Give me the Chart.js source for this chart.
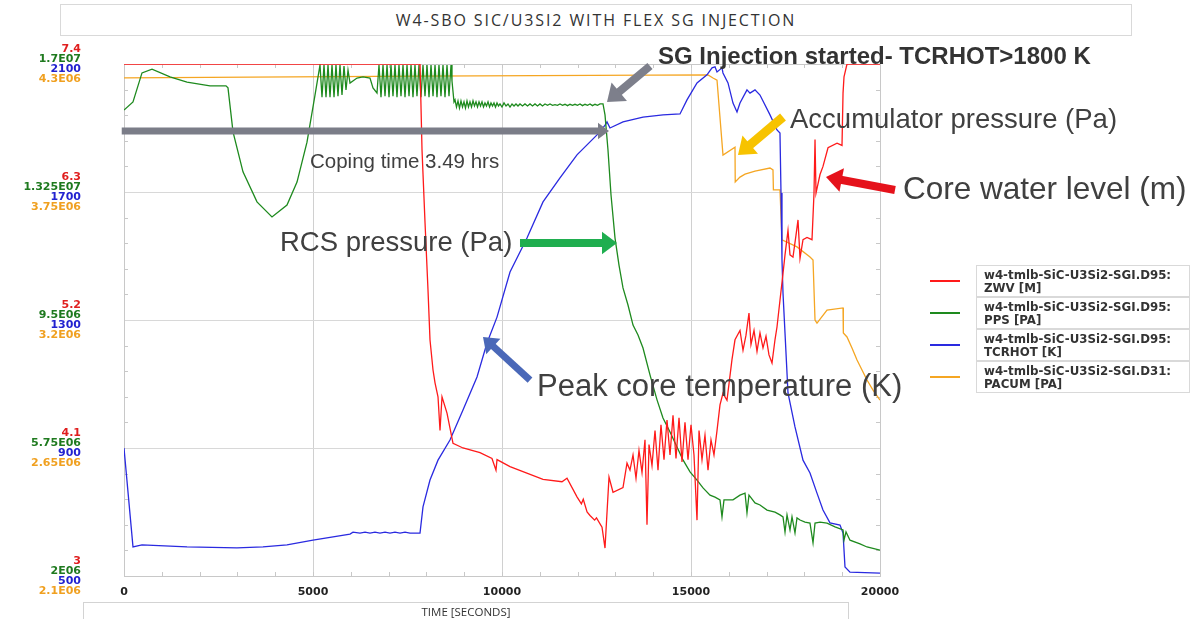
<!DOCTYPE html>
<html>
<head>
<meta charset="utf-8">
<script src="https://cdn.jsdelivr.net/npm/chart.js@4.4.0/dist/chart.umd.min.js"></script>
<style>
    html, body { margin: 0; padding: 0; background: #fff; }
    #wrap { position: relative; width: 1192px; height: 619px; overflow: hidden; font-family: "Liberation Sans", Arial, sans-serif; }
    #chart { position: absolute; left: 0; top: 0; }
    .title-box { position: absolute; left: 60px; top: 4px; width: 1070px; height: 30px; border: 1px solid #d9d9d9; text-align: center; line-height: 30px; font-family: "Open Sans", sans-serif; font-size: 16px; color: #333; letter-spacing: 1.9px; }
    .xtitle-box { position: absolute; left: 83px; top: 602px; width: 764px; height: 22px; border: 1px solid #d3d3d3; text-align: center; font-family: "Open Sans", sans-serif; font-size: 11.5px; line-height: 18px; color: #333; }
    .lg-line { position: absolute; left: 930px; width: 30px; height: 2px; }
    .lg-box { position: absolute; left: 976px; width: 214px; height: 32px; border: 1px solid #d9d9d9; box-sizing: border-box; padding: 3px 0 0 7px; font-family: "DejaVu Sans", sans-serif; font-weight: bold; font-size: 11.8px; line-height: 12.5px; color: #333; white-space: nowrap; }
</style>
</head>
<body>
<div id="wrap">
    <div class="title-box">W4-SBO SIC/U3SI2 WITH FLEX SG INJECTION</div>
    <canvas id="chart" width="1192" height="619"></canvas>
    <div class="xtitle-box">TIME [SECONDS]</div>
    <div id="legend"></div>
</div>
<script>
(function () {
    "use strict";

    // Tick labels
    const timeLabels = [0, 5000, 10000, 15000, 20000];
    const zwvTicks = [3, 4.1, 5.2, 6.3, 7.4];
    const ppsTicks = [2e6, 5.75e6, 9.5e6, 1.325e7, 1.7e7];
    const tcTicks = [500, 900, 1300, 1700, 2100];
    const pacTicks = [2.1e6, 2.65e6, 3.2e6, 3.75e6, 4.3e6];

    // Series: [time s, value]
    // core water level, m
    const zwvSeries = [
        [0, 7.4], [7831, 7.4], [7884, 6.66], [7963, 6.04], [8042, 5.46], [8095, 5.03], [8175, 4.77], [8228, 4.66],
        [8307, 4.54], [8360, 4.25], [8413, 4.54], [8545, 4.40], [8704, 4.14], [8968, 4.10], [9418, 4.06], [9735, 4.01],
        [9841, 3.91], [9868, 4.00], [10212, 3.94], [11085, 3.83], [11587, 3.81], [11720, 3.84], [11984, 3.68],
        [12100, 3.62], [12150, 3.66], [12250, 3.55], [12328, 3.52], [12450, 3.48], [12500, 3.50], [12646, 3.42],
        [12725, 3.24], [12831, 3.85], [12937, 3.72], [13201, 3.76], [13307, 3.97],
        [13386, 3.91], [13466, 4.04], [13545, 3.84], [13624, 4.08], [13704, 3.89], [13783, 4.17], [13836, 3.44],
        [13889, 4.13], [13968, 3.95], [14048, 4.25], [14127, 3.91], [14206, 4.30], [14286, 4.00], [14365, 4.34],
        [14445, 4.04], [14524, 4.38], [14603, 4.01], [14683, 4.36], [14762, 3.98], [14841, 4.32], [14921, 4.00],
        [15000, 4.30], [15079, 4.04], [15159, 3.48], [15212, 4.25], [15291, 4.00], [15370, 4.21], [15450, 3.91],
        [15529, 4.17], [15608, 4.04], [15688, 4.25],
        [15767, 4.47], [15846, 4.57], [15952, 4.51], [16084, 4.86], [16164, 5.03], [16296, 5.11], [16376, 4.94],
        [16455, 5.07], [16534, 5.26], [16587, 4.99], [16667, 5.11], [16746, 4.93], [16825, 5.09], [16905, 4.96],
        [16984, 5.06], [17063, 4.90], [17143, 4.83], [17222, 5.03], [17275, 5.14], [17354, 5.37], [17434, 5.60],
        [17487, 5.76], [17566, 5.97], [17619, 5.76], [17698, 5.74], [17778, 5.93], [17831, 6.06], [17884, 5.73],
        [17963, 5.89], [18069, 5.91], [18201, 5.89], [18254, 6.29], [18281, 6.75], [18307, 6.29], [18413, 6.45],
        [18492, 6.52], [18625, 6.68], [18863, 6.72], [18995, 6.70], [19022, 7.15], [19048, 7.29], [19127, 7.4],
        [20000, 7.4]
    ];
    // RCS pressure, x1e6 Pa
    const ppsE6 = [
        [0, 15.65], [238, 15.89], [476, 16.74], [741, 16.85], [1217, 16.62], [1667, 16.47], [2275, 16.36],
        [2698, 16.36], [2751, 16.30], [2884, 15.01], [3148, 13.84], [3518, 12.96], [3915, 12.52], [4312, 12.87],
        [4577, 13.54], [4841, 14.71], [5053, 16.09], [5185, 16.97],
        [5238, 16.03], [5291, 16.97], [5344, 16.03], [5397, 16.97], [5450, 16.03], [5503, 16.97], [5556, 16.03],
        [5608, 16.97], [5661, 16.06], [5714, 16.97], [5767, 16.09], [5820, 16.94], [5873, 16.24], [5926, 16.82],
        [5979, 16.44], [6164, 16.59], [6323, 16.62], [6508, 16.59], [6587, 16.30], [6693, 16.15],
        [6746, 16.97], [6799, 16.03], [6852, 16.97], [6905, 16.06], [6958, 16.97], [7011, 16.03], [7063, 16.97],
        [7116, 16.06], [7169, 16.97], [7222, 16.03], [7275, 16.97], [7328, 16.06], [7381, 16.97], [7434, 16.03],
        [7487, 16.97], [7540, 16.06], [7593, 16.97], [7645, 16.03], [7698, 16.97], [7751, 16.06], [7804, 16.97],
        [7857, 16.03], [7910, 16.97], [7963, 16.06], [8016, 16.97], [8069, 16.03], [8122, 16.97], [8175, 16.06],
        [8228, 16.97], [8280, 16.03], [8333, 16.97], [8386, 16.06], [8439, 16.97], [8492, 16.03], [8545, 16.97],
        [8598, 16.06], [8651, 16.97], [8677, 16.50], [8730, 15.89],
        [8757, 15.95], [8796, 15.74], [8836, 15.92], [8875, 15.71], [8915, 15.92], [8955, 15.74], [8995, 15.89],
        [9034, 15.71], [9074, 15.92], [9113, 15.74], [9153, 15.89], [9193, 15.74], [9233, 15.92], [9272, 15.77],
        [9312, 15.89], [9352, 15.74], [9392, 15.89], [9431, 15.77], [9471, 15.89], [9510, 15.74], [9550, 15.86],
        [9590, 15.77], [9630, 15.89], [9670, 15.74], [9709, 15.86], [9749, 15.77], [9788, 15.86], [9828, 15.74],
        [9868, 15.86], [9907, 15.77], [9947, 15.83], [10000, 15.74], [10053, 15.86], [10106, 15.77], [10159, 15.83],
        [10212, 15.74], [10265, 15.83], [10318, 15.77], [10370, 15.83], [10423, 15.77], [10476, 15.83],
        [10542, 15.77], [10608, 15.83], [10675, 15.77], [10741, 15.83], [10807, 15.77], [10873, 15.83],
        [10939, 15.77], [11005, 15.83], [11071, 15.77], [11138, 15.83], [11204, 15.79], [11270, 15.83],
        [11336, 15.79], [11402, 15.81], [11468, 15.79], [11534, 15.83], [11600, 15.79], [11667, 15.82],
        [11733, 15.78], [11799, 15.82], [11865, 15.79], [11931, 15.82], [11997, 15.79], [12063, 15.83],
        [12130, 15.78], [12196, 15.82], [12262, 15.79], [12328, 15.83], [12394, 15.78], [12460, 15.82],
        [12526, 15.79], [12593, 15.83], [12672, 15.83],
        [12725, 15.51], [12804, 14.48], [12884, 13.16], [12990, 11.90], [13095, 11.11], [13201, 10.44], [13333, 9.94],
        [13466, 9.35], [13598, 9.06], [13730, 8.68], [13915, 7.89], [14101, 7.16], [14259, 6.63], [14445, 6.22],
        [14630, 5.78], [14788, 5.40], [14974, 5.05], [15159, 4.81], [15318, 4.58], [15503, 4.37], [15635, 4.31],
        [15767, 4.23], [15820, 3.73], [15873, 4.23], [16111, 4.23], [16296, 4.37], [16429, 4.43], [16481, 3.85],
        [16534, 4.37], [16693, 4.14], [16825, 4.08], [17011, 3.93], [17222, 3.87], [17354, 3.79], [17434, 3.73],
        [17487, 3.29], [17540, 3.79], [17619, 3.35], [17672, 3.73], [17751, 3.26], [17804, 3.70], [17884, 3.64],
        [18016, 3.58], [18148, 3.55], [18228, 2.97], [18281, 3.55], [18413, 3.58], [18598, 3.55], [18810, 3.44],
        [19022, 3.35], [19048, 3.05], [19101, 3.29], [19206, 3.05], [19471, 2.94], [19656, 2.85], [20000, 2.76]
    ];
    // peak core temperature, K
    const tcK = [
        [0, 900], [238, 591], [476, 597], [1667, 591], [2989, 588], [3677, 591], [4312, 597], [5000, 612],
        [5979, 631], [6058, 637], [6243, 634], [6376, 637], [6508, 634], [6640, 637], [6772, 634], [6905, 637],
        [7037, 634], [7169, 637], [7302, 634], [7434, 637], [7566, 634], [7778, 634], [7831, 634], [7910, 716],
        [8095, 800], [8307, 862], [8624, 925], [8968, 1019], [9339, 1122], [9603, 1228], [9868, 1309],
        [10212, 1450], [10661, 1556], [11085, 1669], [11534, 1744], [11984, 1816], [12593, 1888], [12725, 1909],
        [12778, 1919], [12857, 1900], [13201, 1919], [13730, 1934], [14259, 1941], [14709, 1944], [14894, 1988],
        [15159, 2041], [15423, 2066], [15556, 2088], [15635, 2091], [15688, 2075], [15820, 2088], [15846, 2072],
        [15979, 2041], [16111, 1978], [16217, 1950], [16296, 1978], [16481, 2019], [16561, 2009], [16693, 2019],
        [16825, 2003], [17090, 1941], [17275, 1894], [17354, 1884], [17381, 1697], [17407, 1488], [17434, 1384],
        [17487, 1259], [17566, 1072], [17751, 966], [17963, 862], [18148, 822], [18333, 759], [18492, 706],
        [18677, 666], [18942, 659], [19022, 634], [19074, 528], [19206, 512], [20000, 509]
    ];
    // accumulator pressure, x1e6 Pa
    const pacE6 = [
        [0, 4.24], [7831, 4.248], [15450, 4.253], [15582, 4.24], [15688, 4.231], [15846, 3.909], [16164, 3.943],
        [16170, 3.793], [16296, 3.814], [16429, 3.827], [16693, 3.840], [17090, 3.853], [17169, 3.845],
        [17180, 3.759], [17354, 3.759], [17407, 3.544], [17804, 3.514], [18148, 3.471], [18228, 3.458],
        [18281, 3.200], [18333, 3.187], [18598, 3.243], [19022, 3.252], [19030, 3.144], [19127, 3.127],
        [19259, 3.080], [19392, 3.028], [19524, 2.985], [19656, 2.942], [19815, 2.899], [20000, 2.856]
    ];

    // Callouts, placed in (time, core water level) coordinates
    const callouts = [
        { text: "SG Injection started- TCRHOT>1800 K", t: 14127, z: 7.46, size: 24, bold: true },
        { text: "Coping time 3.49 hrs", t: 4921, z: 6.558, size: 20.5 },
        { text: "RCS pressure (Pa)", t: 4127, z: 5.862, size: 27.5 },
        { text: "Peak core temperature (K)", t: 10926, z: 4.624, size: 31 },
        { text: "Accumulator pressure (Pa)", t: 17619, z: 6.919, size: 27.5 },
        { text: "Core water level (m)", t: 20608, z: 6.317, size: 31.5 }
    ];
    const pointers = [
        { from: [13915, 7.383], to: [12778, 7.073], color: "#7d7f8b", w: 8, head: 16 },
        { from: [-60, 6.824], to: [12830, 6.824], color: "#7b7d88", w: 7, head: 11 },
        { from: [10476, 5.862], to: [13042, 5.862], color: "#1fae4f", w: 8, head: 15 },
        { from: [10741, 4.684], to: [9497, 5.054], color: "#4a68b8", w: 7, head: 14 },
        { from: [17434, 6.945], to: [16243, 6.618], color: "#f7c300", w: 9, head: 16 },
        { from: [20397, 6.317], to: [18571, 6.429], color: "#e5121b", w: 8, head: 16 }
    ];

    const toXY = (arr, k) => arr.map(p => ({ x: p[0], y: p[1] * k }));

    const eNote = v => {
        const parts = v.toExponential().split("e");
        const n = Math.abs(+parts[1]);
        return parts[0] + "E" + (n < 10 ? "0" : "") + n;
    };

    const labelFont = { family: "DejaVu Sans", size: 11, weight: "bold" };

    function leftAxis(values, color, offset, fmt, main) {
        return {
            type: "linear",
            position: "left",
            min: values[0],
            max: values[values.length - 1],
            weight: main ? 10 : 0,
            afterBuildTicks: axis => { axis.ticks = values.map(v => ({ value: v })); },
            afterFit: axis => {
                axis.width = main ? 124 : 0;
                // keep the wide tick padding from eating into the plot height
                axis.paddingTop = 0;
                axis.paddingBottom = 0;
            },
            ticks: {
                color: color,
                font: labelFont,
                padding: 43,
                labelOffset: offset,
                callback: v => fmt(v)
            },
            grid: main ? { color: "#d8d8d8", drawTicks: false } : { display: false, drawTicks: false },
            border: main ? { color: "#bdbdbd" } : { display: false }
        };
    }

    // the three extra axes share the main axis column
    const stackAxes = {
        id: "stackAxes",
        afterLayout(chart) {
            ["yPps", "yTc", "yPac"].forEach(id => {
                const s = chart.scales[id];
                s.left = 0;
                s.right = chart.chartArea.left;
                s.width = s.right;
            });
        }
    };

    function drawArrow(ctx, x0, y0, x1, y1, color, w, head) {
        const ang = Math.atan2(y1 - y0, x1 - x0);
        const hx = x1 - Math.cos(ang) * head;
        const hy = y1 - Math.sin(ang) * head;
        const nx = Math.cos(ang + Math.PI / 2) * head * 0.75;
        const ny = Math.sin(ang + Math.PI / 2) * head * 0.75;
        ctx.strokeStyle = color;
        ctx.fillStyle = color;
        ctx.lineWidth = w;
        ctx.lineCap = "butt";
        ctx.beginPath();
        ctx.moveTo(x0, y0);
        ctx.lineTo(hx + Math.cos(ang), hy + Math.sin(ang));
        ctx.stroke();
        ctx.beginPath();
        ctx.moveTo(x1, y1);
        ctx.lineTo(hx + nx, hy + ny);
        ctx.lineTo(hx - nx, hy - ny);
        ctx.closePath();
        ctx.fill();
    }

    // frame + small inner ticks
    const frameTicks = {
        id: "frameTicks",
        beforeDatasetsDraw(chart) {
            const { ctx, chartArea: a, scales } = chart;
            ctx.save();
            ctx.strokeStyle = "#c8c8c8";
            ctx.lineWidth = 1;
            ctx.strokeRect(a.left + 0.5, a.top + 0.5, a.right - a.left, a.bottom - a.top);
            ctx.beginPath();
            scales.x.ticks.forEach(t => {
                const px = Math.round(scales.x.getPixelForValue(t.value)) + 0.5;
                ctx.moveTo(px, a.bottom);
                ctx.lineTo(px, a.bottom - 4);
                ctx.moveTo(px, a.top);
                ctx.lineTo(px, a.top + 4);
            });
            const ys = scales.yZwv;
            for (let i = 0; i < zwvTicks.length - 1; i++) {
                const p0 = ys.getPixelForValue(zwvTicks[i]);
                const p1 = ys.getPixelForValue(zwvTicks[i + 1]);
                for (let k = 1; k < 5; k++) {
                    const py = Math.round(p0 + (p1 - p0) * k / 5) + 0.5;
                    ctx.moveTo(a.left, py);
                    ctx.lineTo(a.left + 4, py);
                    ctx.moveTo(a.right, py);
                    ctx.lineTo(a.right - 4, py);
                }
            }
            ctx.stroke();
            ctx.restore();
        }
    };

    const notes = {
        id: "notes",
        afterDraw(chart) {
            const { ctx, scales } = chart;
            const px = t => scales.x.getPixelForValue(t);
            const py = z => scales.yZwv.getPixelForValue(z);
            ctx.save();
            pointers.forEach(p => {
                drawArrow(ctx, px(p.from[0]), py(p.from[1]), px(p.to[0]), py(p.to[1]), p.color, p.w, p.head);
            });
            ctx.textBaseline = "middle";
            ctx.textAlign = "left";
            callouts.forEach(c => {
                ctx.font = (c.bold ? "bold " : "") + c.size + "px 'Liberation Sans', Arial, sans-serif";
                ctx.fillStyle = c.bold ? "#333" : "#404040";
                ctx.fillText(c.text, px(c.t), py(c.z));
            });
            ctx.restore();
        }
    };

    const ctx = document.getElementById("chart").getContext("2d");
    const chart = new Chart(ctx, {
        type: "line",
        data: {
            datasets: [
                {
                    label: ["w4-tmlb-SiC-U3Si2-SGI.D95:", "ZWV [M]"],
                    data: toXY(zwvSeries, 1),
                    yAxisID: "yZwv",
                    borderColor: "#ff1a1a",
                    borderWidth: 1.3
                },
                {
                    label: ["w4-tmlb-SiC-U3Si2-SGI.D95:", "PPS [PA]"],
                    data: toXY(ppsE6, 1e6),
                    yAxisID: "yPps",
                    borderColor: "#1e8a1e",
                    borderWidth: 1.3
                },
                {
                    label: ["w4-tmlb-SiC-U3Si2-SGI.D95:", "TCRHOT [K]"],
                    data: toXY(tcK, 1),
                    yAxisID: "yTc",
                    borderColor: "#2a2ae0",
                    borderWidth: 1.3
                },
                {
                    label: ["w4-tmlb-SiC-U3Si2-SGI.D31:", "PACUM [PA]"],
                    data: toXY(pacE6, 1e6),
                    yAxisID: "yPac",
                    borderColor: "#f5a623",
                    borderWidth: 1.3
                }
            ]
        },
        options: {
            responsive: false,
            devicePixelRatio: 1,
            animation: false,
            layout: { padding: { top: 64, right: 312, left: 0, bottom: 0 } },
            elements: { point: { radius: 0 }, line: { tension: 0 } },
            plugins: { legend: { display: false }, tooltip: { enabled: false }, title: { display: false } },
            scales: {
                x: {
                    type: "linear",
                    min: 0,
                    max: 20000,
                    afterFit: axis => { axis.height = 43; },
                    ticks: {
                        stepSize: 1000,
                        autoSkip: false,
                        maxRotation: 0,
                        padding: 10,
                        color: "#222",
                        font: labelFont,
                        callback: v => (timeLabels.includes(v) ? String(v) : "")
                    },
                    grid: {
                        drawTicks: false,
                        color: c => (c.tick && timeLabels.includes(c.tick.value) ? "#d0d0d0" : "rgba(0,0,0,0)")
                    },
                    border: { color: "#bdbdbd" }
                },
                yZwv: leftAxis(zwvTicks, "#e01f1f", -15, v => String(v), true),
                yPps: leftAxis(ppsTicks, "#1f7a1f", -5, eNote, false),
                yTc: leftAxis(tcTicks, "#2222d0", 5, v => String(v), false),
                yPac: leftAxis(pacTicks, "#f0a020", 15, eNote, false)
            }
        },
        plugins: [stackAxes, frameTicks, notes]
    });

    // Legend
    const legendEl = document.getElementById("legend");
    chart.data.datasets.forEach((ds, i) => {
        const top = 265 + i * 32;
        const line = document.createElement("div");
        line.className = "lg-line";
        line.style.top = (top + 15) + "px";
        line.style.background = ds.borderColor;
        const box = document.createElement("div");
        box.className = "lg-box";
        box.style.top = top + "px";
        box.innerHTML = ds.label.join("<br>");
        legendEl.appendChild(line);
        legendEl.appendChild(box);
    });
})();
</script>
</body>
</html>
